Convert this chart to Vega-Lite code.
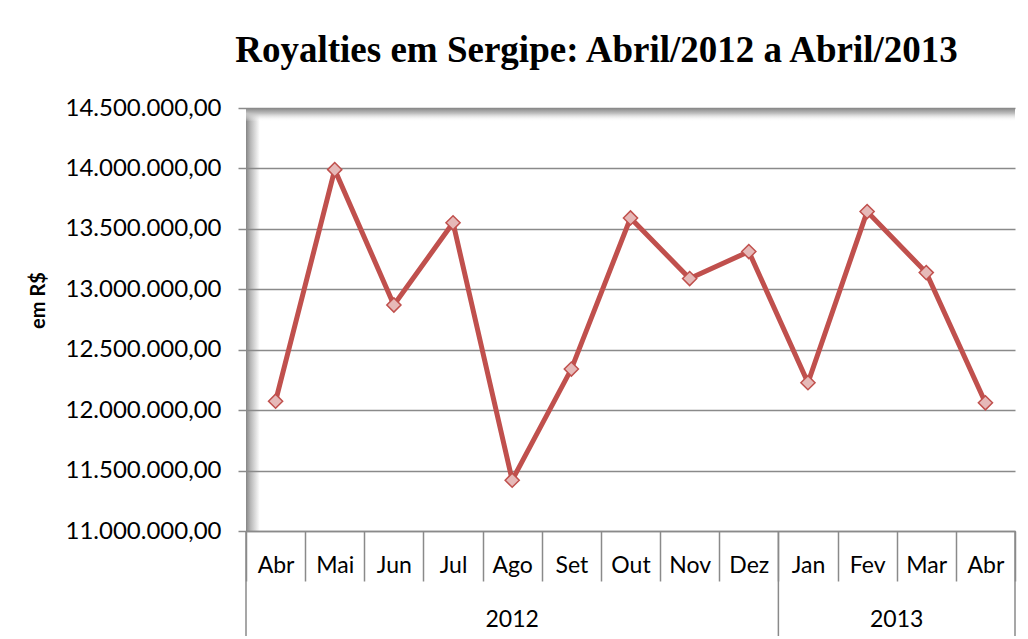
{
  "$schema": "https://vega.github.io/schema/vega-lite/v6.json",
  "width": 769,
  "height": 423,
  "autosize": {"type": "none"},
  "padding": {"left": 246, "top": 108, "right": 13, "bottom": 108},
  "background": "white",
  "title": {
    "text": "Royalties em Sergipe: Abril/2012 a Abril/2013",
    "font": "Liberation Serif",
    "fontSize": 37,
    "fontWeight": "bold",
    "color": "black",
    "anchor": "middle",
    "dx": -34,
    "offset": 26
  },
  "view": {
    "stroke": null,
    "fill": {
      "gradient": "linear", "x1": 0, "y1": 0, "x2": 1, "y2": 0,
      "stops": [
        {"offset": 0, "color": "#858585"},
        {"offset": 0.006, "color": "#b8b8b8"},
        {"offset": 0.018, "color": "#ffffff"}
      ]
    }
  },
  "config": {
    "locale": {"number": {"decimal": ",", "thousands": ".", "grouping": [3], "currency": ["R$ ", ""]}}
  },
  "datasets": {
    "royalties": [
      {"periodo": "Abr 2012", "valor": 12074000},
      {"periodo": "Mai 2012", "valor": 13990000},
      {"periodo": "Jun 2012", "valor": 12870000},
      {"periodo": "Jul 2012", "valor": 13550000},
      {"periodo": "Ago 2012", "valor": 11420000},
      {"periodo": "Set 2012", "valor": 12340000},
      {"periodo": "Out 2012", "valor": 13590000},
      {"periodo": "Nov 2012", "valor": 13089000},
      {"periodo": "Dez 2012", "valor": 13312000},
      {"periodo": "Jan 2013", "valor": 12227000},
      {"periodo": "Fev 2013", "valor": 13643000},
      {"periodo": "Mar 2013", "valor": 13138000},
      {"periodo": "Abr 2013", "valor": 12061000}
    ],
    "inicioGrupo": [{"periodo": "Abr 2012"}, {"periodo": "Jan 2013"}],
    "fimGrupo": [{"periodo": "Abr 2013"}],
    "ano2012": [{"periodo": "Ago 2012", "ano": "2012"}],
    "ano2013": [{"periodo": "Mar 2013", "ano": "2013"}]
  },
  "layer": [
    {
      "data": {"values": [{"s": 1}]},
      "mark": {
        "type": "rect",
        "fill": {
          "gradient": "linear", "x1": 0, "y1": 0, "x2": 0, "y2": 1,
          "stops": [
            {"offset": 0, "color": "#858585"},
            {"offset": 0.4, "color": "#c0c0c0"},
            {"offset": 1, "color": "rgba(255,255,255,0)"}
          ]
        }
      },
      "encoding": {
        "y": {"datum": 14500000, "type": "quantitative"},
        "y2": {"datum": 14388000}
      }
    },
    {
      "data": {"name": "royalties"},
      "mark": {"type": "line", "color": "#C0504D", "strokeWidth": 5},
      "encoding": {
        "x": {
          "field": "periodo", "type": "nominal", "sort": null,
          "scale": {
            "domain": ["Abr 2012","Mai 2012","Jun 2012","Jul 2012","Ago 2012","Set 2012","Out 2012","Nov 2012","Dez 2012","Jan 2013","Fev 2013","Mar 2013","Abr 2013"],
            "paddingInner": 0, "paddingOuter": 0
          },
          "axis": {
            "title": null,
            "tickBand": "extent",
            "tickSize": 50,
            "tickColor": "#8a8a8a",
            "tickWidth": 1.5,
            "domainColor": "#8a8a8a",
            "domainWidth": 1.5,
            "labelExpr": "split(datum.label, ' ')[0]",
            "labelFont": "Lato",
            "labelFontSize": 23,
            "labelColor": "black",
            "labelAngle": 0,
            "labelPadding": -27,
            "grid": false
          }
        },
        "y": {
          "field": "valor", "type": "quantitative",
          "scale": {"domain": [11000000, 14500000], "nice": false, "zero": false},
          "axis": {
            "title": "em R$",
            "values": [11000000, 11500000, 12000000, 12500000, 13000000, 13500000, 14000000, 14500000],
            "format": ",.2f",
            "grid": true,
            "gridColor": "#8a8a8a",
            "gridWidth": 1.5,
            "domain": false,
            "tickSize": 8,
            "tickColor": "#8a8a8a",
            "tickWidth": 1.5,
            "labelFont": "Lato",
            "labelFontSize": 24,
            "labelColor": "black",
            "labelPadding": 17,
            "titleFont": "Lato",
            "titleFontSize": 20,
            "titleFontWeight": "bold",
            "titleColor": "black",
            "titlePadding": 17,
            "titleY": 192
          }
        }
      }
    },
    {
      "data": {"name": "royalties"},
      "mark": {"type": "point", "shape": "diamond", "size": 200, "filled": true, "fill": "#E6B9B8", "stroke": "#C0504D", "strokeWidth": 1.5, "opacity": 1},
      "encoding": {
        "x": {"field": "periodo", "type": "nominal", "sort": null},
        "y": {"field": "valor", "type": "quantitative"}
      }
    },
    {
      "data": {"name": "inicioGrupo"},
      "mark": {"type": "rule", "color": "#8a8a8a", "strokeWidth": 1.5},
      "encoding": {
        "x": {"field": "periodo", "type": "nominal", "bandPosition": 0},
        "y": {"datum": 11000000, "type": "quantitative"},
        "y2": {"datum": 10131000}
      }
    },
    {
      "data": {"name": "fimGrupo"},
      "mark": {"type": "rule", "color": "#8a8a8a", "strokeWidth": 1.5},
      "encoding": {
        "x": {"field": "periodo", "type": "nominal", "bandPosition": 1},
        "y": {"datum": 11000000, "type": "quantitative"},
        "y2": {"datum": 10131000}
      }
    },
    {
      "data": {"name": "ano2012"},
      "mark": {"type": "text", "font": "Lato", "fontSize": 23, "color": "black", "baseline": "alphabetic", "align": "center"},
      "encoding": {
        "x": {"field": "periodo", "type": "nominal", "bandPosition": 0.5},
        "y": {"datum": 10205000, "type": "quantitative"},
        "text": {"field": "ano"}
      }
    },
    {
      "data": {"name": "ano2013"},
      "mark": {"type": "text", "font": "Lato", "fontSize": 23, "color": "black", "baseline": "alphabetic", "align": "center"},
      "encoding": {
        "x": {"field": "periodo", "type": "nominal", "bandPosition": 0},
        "y": {"datum": 10205000, "type": "quantitative"},
        "text": {"field": "ano"}
      }
    }
  ]
}
